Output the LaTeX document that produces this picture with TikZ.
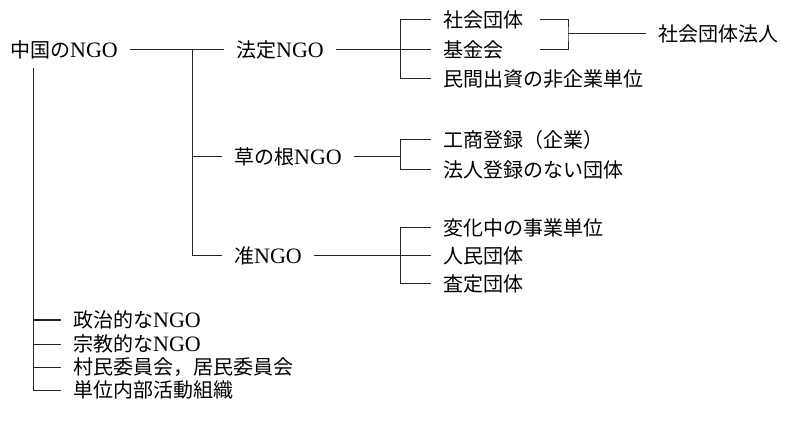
\documentclass[tikz,border=0pt]{standalone}
\usepackage{fontspec}
\usepackage{tikz}
\newfontfamily\jp{Noto Sans CJK JP}
\newfontfamily\ngofont{Liberation Serif}
\newcommand{\ngo}{{\ngofont\fontsize{22}{24}\selectfont NGO}}

\tikzset{
	item/.style={anchor=west, inner xsep=12pt, inner ysep=3pt, font=\jp\fontsize{20}{24}\selectfont},
	conn/.style={line width=1pt, black!85}
}

\begin{document}
\begin{tikzpicture}[x=1pt,y=-1pt]
			
			\useasboundingbox (0,0) rectangle (785,422);
			
			\node[item] (root) at (-2,50) {中国の\ngo};
			\node[item] (hotei) at (224,50) {法定\ngo};
			\node[item] (kusa) at (222,157) {草の根\ngo};
			\node[item] (jun) at (222,256) {准\ngo};
			
			\node[item] (shakai) at (431,20) {社会団体};
			\node[item] (kikin) at (431,50) {基金会};
			\node[item] (minkan) at (431,79) {民間出資の非企業単位};
			\node[item] (houjin) at (646,34) {社会団体法人};
			
			\node[item] (kosho) at (431,140) {工商登録（企業）};
			\node[item] (nashi) at (431,170) {法人登録のない団体};
			
			\node[item] (henka) at (431,228) {変化中の事業単位};
			\node[item] (jinmin) at (431,256) {人民団体};
			\node[item] (satei) at (431,284) {査定団体};
			
			\node[item] (seiji) at (61,320) {政治的な\ngo};
			\node[item] (shukyo) at (61,344) {宗教的な\ngo};
			\node[item] (sonmin) at (61,367) {村民委員会，居民委員会};
			\node[item] (tanni) at (61,390) {単位内部活動組織};
			
			\coordinate (r0) at (33,68);
			\coordinate (j1) at (192,50);
			\coordinate (j2) at (400,50);
			\coordinate (j3) at (400,157);
			\coordinate (j4) at (400,256);
			\coordinate (b1) at (540,20);
			\coordinate (b2) at (540,50);
			\coordinate (bj) at (568,34);
			
			\draw[conn] (root)-- (hotei);
			\draw[conn] (j1) |- (kusa);
			\draw[conn] (j1) |- (jun);
			
			\draw[conn] (hotei)-- (kikin);
			\draw[conn] (j2) |- (shakai);
			\draw[conn] (j2) |- (minkan);
			\draw[conn] (b1) -| (bj) |- (b2);
			\draw[conn] (bj)-- (houjin);
			
			\draw[conn] (kusa)-- (j3);
			\draw[conn] (j3) |- (kosho);
			\draw[conn] (j3) |- (nashi);
			
			\draw[conn] (jun)-- (jinmin);
			\draw[conn] (j4) |- (henka);
			\draw[conn] (j4) |- (satei);
			
			\draw[conn] (r0) |- (seiji);
			\draw[conn] (r0) |- (shukyo);
			\draw[conn] (r0) |- (sonmin);
			\draw[conn] (r0) |- (tanni);
			
		\end{tikzpicture}
\end{document}
